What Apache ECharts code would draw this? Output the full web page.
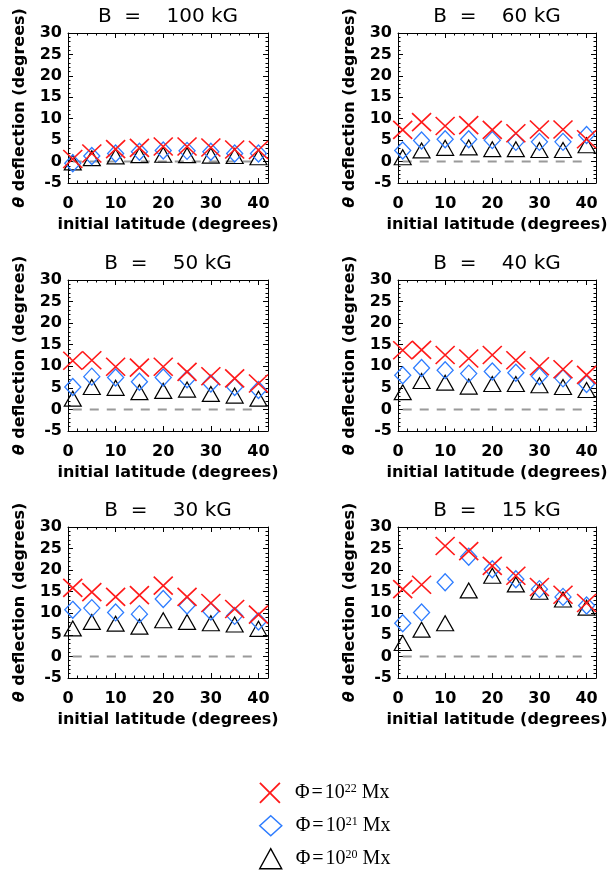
<!DOCTYPE html>
<html><head><meta charset="utf-8">
<script src="https://cdn.jsdelivr.net/npm/echarts@6/dist/echarts.min.js"></script>
<style>html,body{margin:0;padding:0;background:#fff}#c{width:615px;height:872px}</style>
</head><body><div id="c"></div>
<script>
// ---- data ----
const latitudes = [1, 5, 10, 15, 20, 25, 30, 35, 40];
const fieldStrengths = ['100', '60', '50', '40', '30', '15'];
const xTickValues = [0, 10, 20, 30, 40];
const yTickValues = [-5, 0, 5, 10, 15, 20, 25, 30];
const seriesNames = ['phi22', 'phi21', 'phi20'];
const legendExponents = ['22', '21', '20'];

const b100_phi22 = [0.6, 1.9, 2.9, 3.2, 3.5, 3.5, 3.3, 2.8, 2.7];
const b100_phi21 = [-0.4, 1.3, 1.9, 2.3, 2.6, 2.5, 2.3, 1.9, 1.9];
const b100_phi20 = [-0.2, 0.8, 1.2, 1.5, 1.6, 1.5, 1.4, 1.3, 1.0];

const b60_phi22 = [7.4, 9.2, 8.3, 8.5, 7.4, 6.6, 7.5, 7.5, 5.2];
const b60_phi21 = [2.6, 4.9, 5.2, 5.2, 5.0, 4.6, 4.6, 4.6, 6.2];
const b60_phi20 = [1.0, 2.6, 3.2, 3.3, 2.9, 2.9, 2.7, 2.7, 3.8];

const b50_phi22 = [11.3, 11.4, 9.9, 9.7, 9.9, 8.7, 7.7, 7.2, 6.0];
const b50_phi21 = [5.2, 7.6, 7.4, 6.4, 7.4, 7.0, 6.0, 5.2, 4.5];
const b50_phi20 = [2.5, 5.2, 5.0, 4.0, 4.3, 4.6, 3.6, 3.2, 2.5];

const b40_phi22 = [13.7, 13.8, 12.6, 11.8, 12.6, 11.4, 10.0, 9.3, 8.0];
const b40_phi21 = [7.9, 9.6, 9.1, 8.3, 8.8, 8.5, 7.7, 7.2, 5.9];
const b40_phi20 = [4.0, 6.6, 6.2, 5.3, 5.9, 5.9, 5.6, 5.2, 4.5];

const b30_phi22 = [15.9, 14.9, 13.8, 14.2, 16.4, 13.8, 12.4, 11.0, 9.7];
const b30_phi21 = [10.8, 11.2, 10.2, 9.8, 13.3, 11.8, 10.4, 9.4, 8.1];
const b30_phi20 = [6.5, 8.0, 7.6, 6.9, 8.4, 8.0, 7.7, 7.4, 6.4];

const b15_phi22 = [15.6, 16.6, 25.6, 24.4, 21.0, 18.7, 16.1, 14.3, 12.4];
const b15_phi21 = [7.7, 10.2, 17.2, 23.1, 20.2, 17.9, 15.6, 13.8, 11.8];
const b15_phi20 = [3.1, 6.2, 7.7, 15.3, 18.7, 16.7, 15.0, 13.2, 11.3];

const zeroLineX = [1, 40];

// ---- chart ----
const panelData = [
  [b100_phi22, b100_phi21, b100_phi20],
  [b60_phi22, b60_phi21, b60_phi20],
  [b50_phi22, b50_phi21, b50_phi20],
  [b40_phi22, b40_phi21, b40_phi20],
  [b30_phi22, b30_phi21, b30_phi20],
  [b15_phi22, b15_phi21, b15_phi20]
];
const gridPos = [
  [68, 33, 200, 150], [398, 33, 198, 150],
  [68, 280, 200, 151], [398, 280, 198, 151],
  [68, 527, 200, 151], [398, 527, 198, 151]
];
const SANS = 'DejaVu Sans';
const SERIF = 'Liberation Serif';
const crossPath = 'path://M0,0L10,10M10,0L0,10';
const styles = [
  { symbol: crossPath, size: [19, 18], color: '#ff1a1a', width: 1.6 },
  { symbol: 'diamond', size: [16, 17], color: '#2d7cff', width: 1.3 },
  { symbol: 'triangle', size: [17, 15], color: '#000000', width: 1.2 }
];

const grids = [], xAxes = [], yAxes = [], series = [];
const black = { color: '#000', width: 1 };
const labelFont = { fontFamily: SANS, fontWeight: 'bold', fontSize: 16, color: '#000' };

panelData.forEach((sets, i) => {
  const [l, t, w, h] = gridPos[i];
  grids.push({ left: l, top: t, width: w, height: h, containLabel: false });
  const xBase = { gridIndex: i, type: 'value', min: 0, max: 42, splitLine: { show: false } };
  xAxes.push(Object.assign({}, xBase, {
    position: 'bottom', interval: 10,
    axisLine: { show: true, onZero: false, lineStyle: black },
    axisTick: { show: true, inside: true, length: 5, lineStyle: black },
    axisLabel: Object.assign({ margin: 13, showMaxLabel: false,
      formatter: v => (xTickValues.indexOf(v) >= 0 ? String(v) : '') }, labelFont),
    name: 'initial latitude (degrees)', nameLocation: 'middle', nameGap: 34,
    nameTextStyle: labelFont
  }));
  xAxes.push(Object.assign({}, xBase, {
    position: 'bottom', interval: 2,
    axisLine: { show: false, onZero: false },
    axisTick: { show: true, inside: true, length: 2.5, lineStyle: black },
    axisLabel: { show: false }
  }));
  xAxes.push(Object.assign({}, xBase, {
    position: 'top', interval: 10,
    axisLine: { show: true, onZero: false, lineStyle: black },
    axisTick: { show: true, inside: true, length: 5, lineStyle: black },
    axisLabel: { show: false },
    name: 'B  =    ' + fieldStrengths[i] + ' kG', nameLocation: 'middle', nameGap: 6,
    nameTextStyle: { fontFamily: SANS, fontSize: 20, fontWeight: 'normal', color: '#000' }
  }));
  xAxes.push(Object.assign({}, xBase, {
    position: 'top', interval: 2,
    axisLine: { show: false, onZero: false },
    axisTick: { show: true, inside: true, length: 2.5, lineStyle: black },
    axisLabel: { show: false }
  }));
  const yBase = { gridIndex: i, type: 'value', min: -5, max: 30, interval: 5,
    splitLine: { show: false },
    axisLine: { show: true, onZero: false, lineStyle: black },
    axisTick: { show: true, inside: true, length: 5, lineStyle: black },
    minorTick: { show: true, splitNumber: 5, length: 2.5, lineStyle: black } };
  yAxes.push(Object.assign({}, yBase, {
    position: 'left',
    axisLabel: Object.assign({ margin: 6,
      formatter: v => (yTickValues.indexOf(v) >= 0 ? String(v) : '') }, labelFont),
    name: '{th|θ} deflection (degrees)', nameLocation: 'middle', nameGap: 40, nameRotate: 90,
    nameTextStyle: Object.assign({ rich: { th: Object.assign({ fontStyle: 'italic' }, labelFont) } }, labelFont)
  }));
  yAxes.push(Object.assign({}, yBase, { position: 'right', axisLabel: { show: false } }));

  const xi = i * 4, yi = i * 2;
  series.push({
    type: 'line', name: 'zero', xAxisIndex: xi, yAxisIndex: yi, silent: true,
    symbol: 'none', z: 1,
    data: zeroLineX.map(x => [x, 0]),
    lineStyle: { color: '#9a9a9a', width: 2, type: [9, 8] }
  });
  for (let k = 2; k >= 0; k--) {
    const st = styles[k];
    series.push({
      type: 'scatter', name: seriesNames[k], xAxisIndex: xi, yAxisIndex: yi, z: 3 + (2 - k),
      symbol: st.symbol, symbolSize: st.size,
      itemStyle: { color: 'rgba(0,0,0,0)', borderColor: st.color, borderWidth: st.width, opacity: 1 },
      emphasis: { disabled: true },
      data: latitudes.map((x, j) => [x, sets[k][j]])
    });
  }
});

const legendTops = [782, 815, 848];
const legends = seriesNames.map((n, k) => ({
  orient: 'vertical', left: 259, top: legendTops[k], padding: 0,
  itemWidth: 22, itemHeight: 20,
  selectedMode: false,
  data: [{
    name: n, icon: styles[k].symbol,
    itemStyle: { color: 'rgba(0,0,0,0)', borderColor: styles[k].color, borderWidth: styles[k].width + 0.2 }
  }],
  formatter: nm => '{g|}{t|Φ}{e|=}{t|10}{s|' + legendExponents[seriesNames.indexOf(nm)] + '}{t| Mx}',
  textStyle: {
    fontFamily: SERIF, fontSize: 20, color: '#000',
    rich: {
      g: { width: 9 },
      t: { fontFamily: SERIF, fontSize: 20, lineHeight: 20, color: '#000' },
      e: { fontFamily: SERIF, fontSize: 20, lineHeight: 20, color: '#000', padding: [0, 2, 0, 2] },
      s: { fontFamily: SERIF, fontSize: 12, lineHeight: 12, verticalAlign: 'top', color: '#000' }
    }
  }
}));

const option = {
  animation: false,
  backgroundColor: '#fff',
  grid: grids,
  xAxis: xAxes,
  yAxis: yAxes,
  legend: legends,
  series: series
};
const chart = echarts.init(document.getElementById('c'), null, { renderer: 'canvas' });
chart.setOption(option);
</script></body></html>
